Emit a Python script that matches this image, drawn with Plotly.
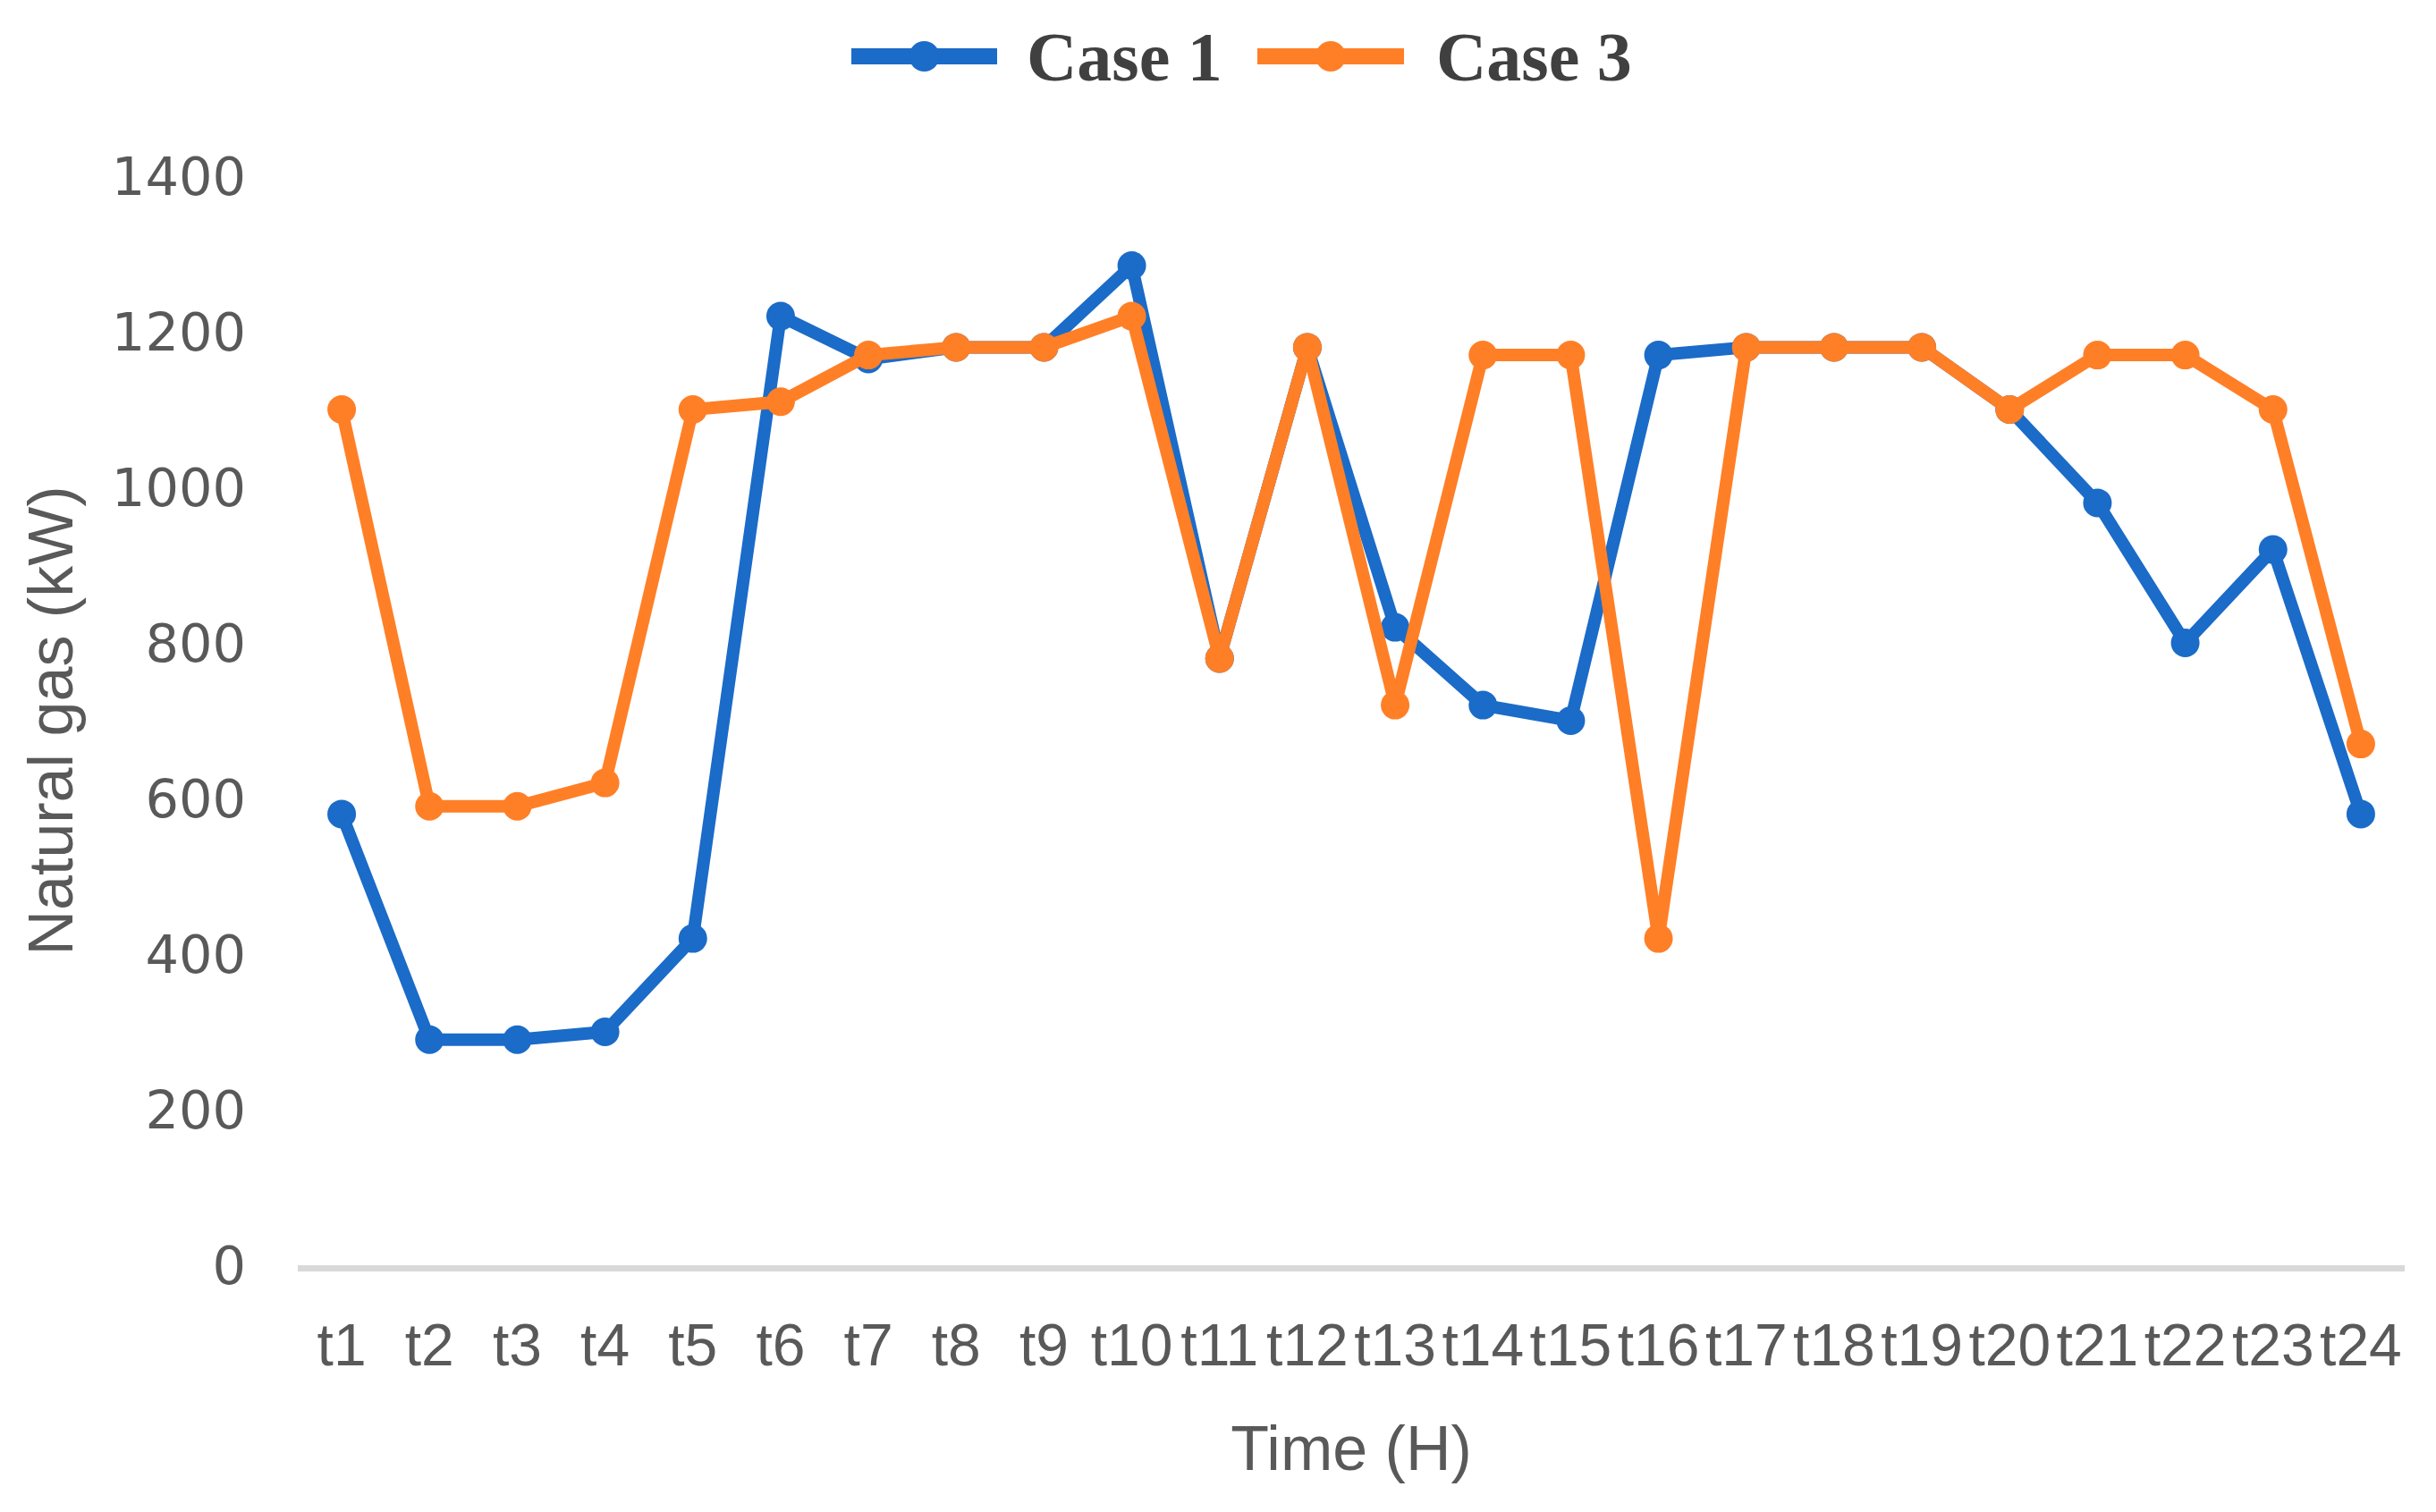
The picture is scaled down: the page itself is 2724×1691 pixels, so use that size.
import plotly.graph_objects as go

categories = [f"t{i}" for i in range(1, 25)]
case1 = [580, 290, 290, 300, 420, 1220, 1165, 1180, 1180, 1285, 780, 1180,
         820, 720, 700, 1170, 1180, 1180, 1180, 1100, 980, 800, 920, 580]
case3 = [1100, 590, 590, 620, 1100, 1110, 1170, 1180, 1180, 1220, 780, 1180,
         720, 1170, 1170, 420, 1180, 1180, 1180, 1100, 1170, 1170, 1100, 670]
y_ticks = [0, 200, 400, 600, 800, 1000, 1200, 1400]
series_names = ["Case 1", "Case 3"]

BLUE = "#1B6BC8"
ORANGE = "#FF7F27"
colors = [BLUE, ORANGE]

W, H = 2724, 1691
L, R, T, B = 333, 35, 197, 276
PW, PH = W - L - R, H - T - B


def px_x(X):
    return (X - L) / PW


def px_y(Y):
    return (H - B - Y) / PH


fig = go.Figure()
for name, vals, col in zip(series_names, [case1, case3], colors):
    fig.add_trace(go.Scatter(x=categories, y=vals, name=name, mode="lines+markers",
                             line=dict(color=col, width=14),
                             marker=dict(color=col, size=32),
                             showlegend=False))

# custom legend (long line symbols like the original)
legend_items = [(952, 1115, 1146), (1406, 1570, 1604)]
ly = px_y(63)
for (x0, x1, tx), name, col in zip(legend_items, series_names, colors):
    fig.add_shape(type="line", xref="paper", yref="paper",
                  x0=px_x(x0), x1=px_x(x1), y0=ly, y1=ly,
                  line=dict(color=col, width=18))
    cx = px_x((x0 + x1) / 2)
    fig.add_shape(type="circle", xref="paper", yref="paper",
                  xsizemode="pixel", ysizemode="pixel",
                  xanchor=cx, yanchor=ly, x0=-17, x1=17, y0=-17, y1=17,
                  fillcolor=col, line=dict(color=col, width=0))
    fig.add_annotation(text=f"<b>{name}</b>", xref="paper", yref="paper",
                       x=px_x(tx), y=ly, xanchor="left", yanchor="middle",
                       showarrow=False,
                       font=dict(family="Liberation Serif", size=78, color="#404040"))

fig.update_layout(
    width=W, height=H,
    paper_bgcolor="white", plot_bgcolor="white",
    margin=dict(l=L, r=R, t=T, b=B, autoexpand=False),
    showlegend=False,
    xaxis=dict(type="category", range=[-0.5, 23.5], showgrid=False, showline=True,
               linecolor="#D9D9D9", linewidth=7, ticks="", zeroline=False,
               tickangle=0, automargin=False, ticklabelstandoff=26,
               tickfont=dict(family="Liberation Sans", size=66, color="#595959"),
               title=dict(text="Time (H)", standoff=57,
                          font=dict(family="Liberation Sans", size=70, color="#595959"))),
    yaxis=dict(range=[0, 1400], tickvals=y_ticks, showgrid=False, zeroline=False,
               showline=False, ticks="", automargin=False, ticklabelstandoff=57,
               tickfont=dict(family="DejaVu Sans", size=59, color="#595959"),
               title=dict(text="Natural gas (kW)", standoff=20,
                          font=dict(family="Liberation Sans", size=70, color="#595959"))),
)

fig.write_html("out.html", config={"displayModeBar": False},
               post_script="document.body.style.margin='0';document.body.style.overflow='hidden';")
